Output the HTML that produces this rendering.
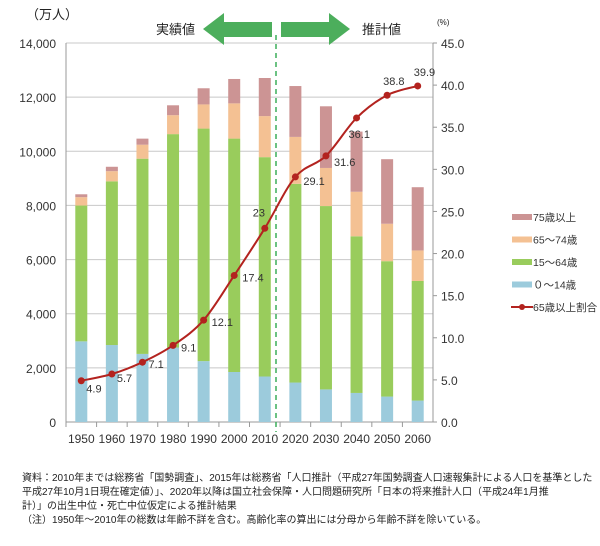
<!DOCTYPE html>
<html><head><meta charset="utf-8">
<style>
body{margin:0;background:#fff;width:600px;height:546px;overflow:hidden;font-family:"Liberation Sans","Noto Sans CJK JP",sans-serif;}
svg text{font-family:"Liberation Sans","Noto Sans CJK JP",sans-serif;}
.note{position:absolute;left:22px;font-size:10px;color:#222;white-space:nowrap;line-height:14px;}
</style></head><body>
<svg id="chart" width="600" height="546" style="position:absolute;left:0;top:0"></svg>
<div class="note" style="top:472px">資料：2010年までは総務省「国勢調査」、2015年は総務省「人口推計（平成27年国勢調査人口速報集計による人口を基準とした<br>平成27年10月1日現在確定値）」、2020年以降は国立社会保障・人口問題研究所「日本の将来推計人口（平成24年1月推<br>計）」の出生中位・死亡中位仮定による推計結果<br>（注）1950年～2010年の総数は年齢不詳を含む。高齢化率の算出には分母から年齢不詳を除いている。</div>
<script>
const categories=["1950","1960","1970","1980","1990","2000","2010","2020","2030","2040","2050","2060"];
const age0_14=[2979,2843,2515,2751,2249,1847,1680,1457,1204,1073,939,791];
const age15_64=[5017,6047,7212,7883,8590,8622,8103,7341,6773,5787,5001,4418];
const age65_74=[309,375,516,699,892,1301,1517,1733,1407,1645,1383,1128];
const age75p=[107,163,224,366,597,901,1407,1879,2278,2223,2385,2336];
const ratio=[4.9,5.7,7.1,9.1,12.1,17.4,23,29.1,31.6,36.1,38.8,39.9];
const leftTicks=[0,2000,4000,6000,8000,10000,12000,14000];
const rightTicks=[0,5,10,15,20,25,30,35,40,45];

const NS="http://www.w3.org/2000/svg";
const svg=document.getElementById('chart');
const X0=66,X1=433,Y0=422,Y1=43;
const band=(X1-X0)/categories.length;
const xc=i=>X0+band*(i+0.5);
const yL=v=>Y0-(v/14000)*(Y0-Y1);
const yR=v=>Y0-(v/45)*(Y0-Y1);
function mk(t,a,txt){const e=document.createElementNS(NS,t);for(const k in a)e.setAttribute(k,a[k]);if(txt!==undefined)e.textContent=txt;svg.appendChild(e);return e;}

leftTicks.forEach(v=>{
  const g=mk('line',{x1:X0,x2:X1,y1:yL(v),y2:yL(v),stroke:'#c8c8c8','stroke-width':1});
  
  
  const t=mk('text',{x:56,y:yL(v)+5,'text-anchor':'end','font-size':12,fill:'#333'},v.toLocaleString('en-US'));
  
  
});
rightTicks.forEach(v=>{
  const tk=mk('line',{x1:X1,x2:X1+4,y1:yR(v),y2:yR(v),stroke:'#999'});
  
  
  const t=mk('text',{x:441,y:yR(v)+5,'font-size':12,fill:'#333'},v.toFixed(1));
  
  
});
mk('line',{x1:X0,x2:X0,y1:Y1,y2:Y0,stroke:'#999'});
mk('line',{x1:X1,x2:X1,y1:Y1,y2:Y0,stroke:'#999'});
mk('line',{x1:X0,x2:X1,y1:Y0,y2:Y0,stroke:'#999'});

const series=[[age0_14,'#9ccbdc'],[age15_64,'#99cc5c'],[age65_74,'#f4c193'],[age75p,'#cc9494']];
categories.forEach((c,i)=>{
  let base=0;
  series.forEach((s,si)=>{
    const v=s[0][i];
    const r=mk('rect',{x:xc(i)-6,width:12,y:yL(base+v),height:yL(base)-yL(base+v),fill:s[1]});
    
    
    base+=v;
  });
  const xt=mk('line',{x1:X0+band*i,x2:X0+band*i,y1:Y0,y2:Y0+5,stroke:'#999'});
  
  const t=mk('text',{x:xc(i),y:443,'text-anchor':'middle','font-size':12,fill:'#333'},c);
  
  
});

const dv=mk('line',{x1:276,x2:276,y1:35,y2:432,stroke:'#3cae5a','stroke-width':1.5,'stroke-dasharray':'5,4'});

mk('polygon',{points:'203,29 224,13 224,22 272,22 272,37 224,37 224,45',fill:'#4cae5c'});
mk('polygon',{points:'350,29 329,13 329,22 281,22 281,37 329,37 329,45',fill:'#4cae5c'});
mk('text',{x:156,y:34,'font-size':13,fill:'#222'},'実績値');
mk('text',{x:362,y:34,'font-size':13,fill:'#222'},'推計値');
mk('text',{x:26,y:19,'font-size':13,fill:'#222'},'（万人）');
mk('text',{x:437,y:25,'font-size':8,fill:'#222'},'(%)');

const pts=ratio.map((v,i)=>[xc(i),yR(v)]);
let d='M'+pts[0][0]+','+pts[0][1];
for(let i=0;i<pts.length-1;i++){
  const p0=pts[Math.max(0,i-1)],p1=pts[i],p2=pts[i+1],p3=pts[Math.min(pts.length-1,i+2)];
  const c1=[p1[0]+(p2[0]-p0[0])/6,p1[1]+(p2[1]-p0[1])/6],c2=[p2[0]-(p3[0]-p1[0])/6,p2[1]-(p3[1]-p1[1])/6];
  d+=' C'+c1+' '+c2+' '+p2;
}
const ln=mk('path',{d:d,fill:'none',stroke:'#b3231f','stroke-width':2});


const lo=[[5,12],[5,8],[6,6],[8,6],[8,6],[8,6],[-12,-12],[8,8],[8,10],[-8,20],[-4,-10],[-4,-10]];
ratio.forEach((v,i)=>{
  const m=mk('circle',{cx:xc(i),cy:yR(v),r:3.5,fill:'#b3231f'});
  
  
  const t=mk('text',{x:xc(i)+lo[i][0],y:yR(v)+lo[i][1],'font-size':11,fill:'#333'},String(v));
  
  
});

const leg=[['75歳以上','#cc9494'],['65～74歳','#f4c193'],['15～64歳','#99cc5c'],['０～14歳','#9ccbdc']];
leg.forEach((l,i)=>{
  const y=217+i*22.5;
  const r=mk('rect',{x:512,y:y-3,width:20,height:6,fill:l[1]});
  
  
  const t=mk('text',{x:533,y:y+4,'font-size':10.5,fill:'#333'},l[0]);
  
  
});
mk('line',{x1:511,x2:533,y1:307,y2:307,stroke:'#b3231f','stroke-width':2});
mk('circle',{cx:522,cy:307,r:3,fill:'#b3231f'});
const lt=mk('text',{x:533,y:311,'font-size':10.5,fill:'#333'},'65歳以上割合');


</script>
</body></html>
